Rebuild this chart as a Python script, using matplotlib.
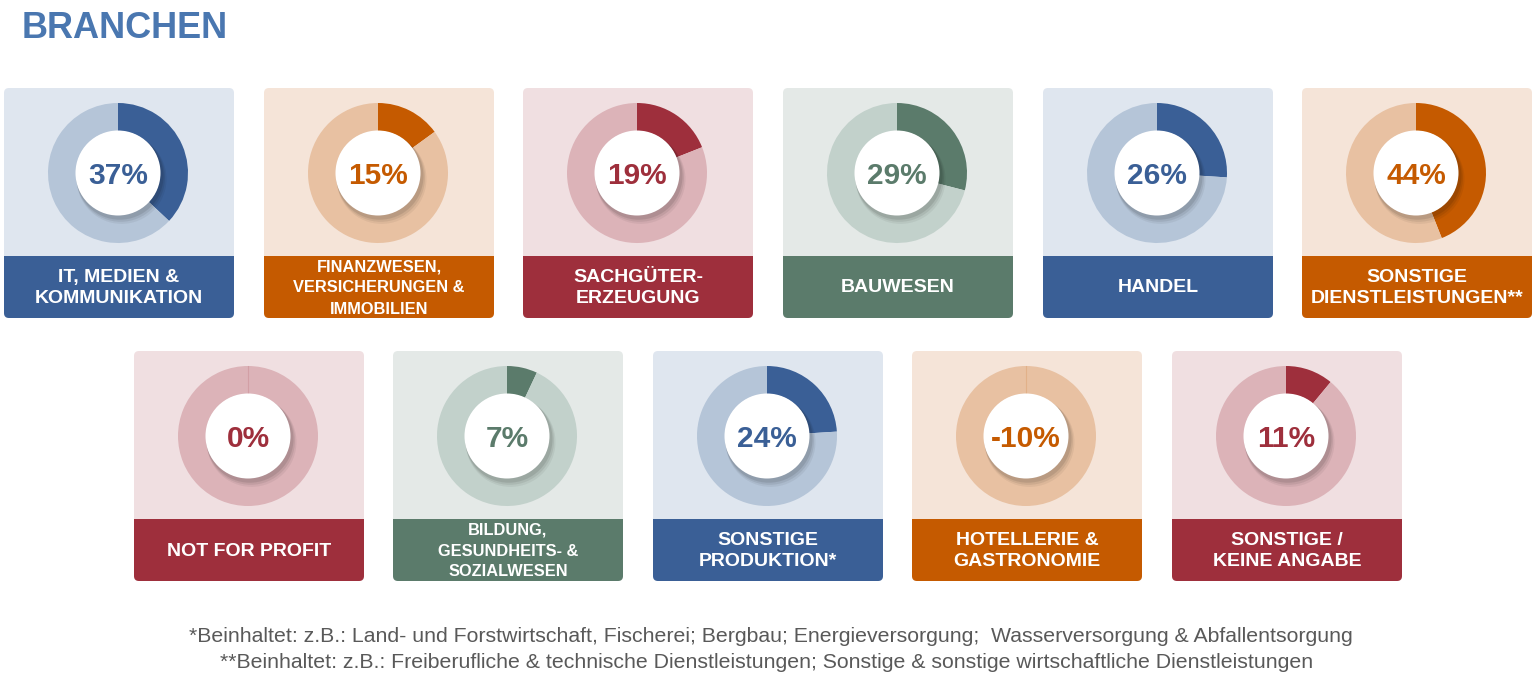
import matplotlib.pyplot as plt
from matplotlib.patches import FancyBboxPatch, Circle, Rectangle

plt.rcParams['font.family'] = ['Liberation Sans', 'DejaVu Sans']

# Daten
row1_labels = ['IT, MEDIEN &\nKOMMUNIKATION', 'FINANZWESEN,\nVERSICHERUNGEN &\nIMMOBILIEN',
               'SACHGÜTER-\nERZEUGUNG', 'BAUWESEN', 'HANDEL', 'SONSTIGE\nDIENSTLEISTUNGEN**']
row1_values = [37, 15, 19, 29, 26, 44]
row1_themes = ['blue', 'orange', 'red', 'green', 'blue', 'orange']

row2_labels = ['NOT FOR PROFIT', 'BILDUNG,\nGESUNDHEITS- &\nSOZIALWESEN', 'SONSTIGE\nPRODUKTION*',
               'HOTELLERIE &\nGASTRONOMIE', 'SONSTIGE /\nKEINE ANGABE']
row2_values = [0, 7, 24, -10, 11]
row2_themes = ['red', 'green', 'blue', 'orange', 'red']

footnotes = ['*Beinhaltet: z.B.: Land- und Forstwirtschaft, Fischerei; Bergbau; Energieversorgung;  Wasserversorgung & Abfallentsorgung',
             '**Beinhaltet: z.B.: Freiberufliche & technische Dienstleistungen; Sonstige & sonstige wirtschaftliche Dienstleistungen']

# Farben: (dunkel, Ring hell, Hintergrund)
themes = {
    'blue':   ('#3A5F96', '#B5C5D8', '#DFE6EF'),
    'orange': ('#C55A00', '#E8C1A2', '#F5E4D8'),
    'red':    ('#9E2F3C', '#DCB3B8', '#F0DFE1'),
    'green':  ('#5B7B6B', '#C2D1CB', '#E4E9E7'),
}

W, H = 1537, 692
fig = plt.figure(figsize=(W / 100, H / 100), dpi=100)
ax = fig.add_axes([0, 0, 1, 1])


def Y(py):
    return H - py


def card(x0, top, label, value, theme, small):
    dark, light, bg = themes[theme]
    w, h, band = 230, 230, 62
    cx, cy = x0 + w / 2 - 1, top + 85
    # Karte
    ax.add_patch(FancyBboxPatch((x0, Y(top + h)), w, h, boxstyle='round,pad=0,rounding_size=5',
                                fc=bg, ec='none', zorder=1))
    ax.add_patch(FancyBboxPatch((x0, Y(top + h)), w, band, boxstyle='round,pad=0,rounding_size=5',
                                fc=dark, ec='none', zorder=2))
    ax.add_patch(Rectangle((x0, Y(top + h) + band - 8), w, 8, fc=dark, ec='none', zorder=2))
    # Donut
    v = max(value, 0)
    ax.pie([v, 100 - v], colors=[dark, light], center=(cx, Y(cy)), radius=70,
           startangle=90, counterclock=False, wedgeprops=dict(width=28, linewidth=0), frame=True)
    if v == 0:
        ax.plot([cx, cx], [Y(cy) + 42, Y(cy) + 70], color=dark, alpha=0.15, lw=0.8, zorder=3)
    # Schatten + weisser Kreis
    for off, a in [(6, 0.05), (4.5, 0.07), (3, 0.09)]:
        ax.add_patch(Circle((cx + off * 0.6, Y(cy) - off), 42.5 + off * 0.4, fc='black',
                            alpha=a, ec='none', zorder=4))
    ax.add_patch(Circle((cx, Y(cy)), 42.5, fc='white', ec='none', zorder=5))
    ax.text(cx, Y(cy + 11), f'{value}%', ha='center', va='baseline', fontsize=21.5,
            fontweight='bold', color=dark, zorder=6)
    ax.text(x0 + w / 2, Y(top + h - band / 2 + 1), label, ha='center', va='center', ma='center',
            fontsize=11.8 if small else 14, fontweight='bold', color='white',
            linespacing=1.5 if small else 1.33, zorder=6)


row1_x = [4, 264, 523, 783, 1043, 1302]
row2_x = [134, 393, 653, 912, 1172]
for x0, lab, val, th in zip(row1_x, row1_labels, row1_values, row1_themes):
    card(x0, 88, lab, val, th, lab.count('\n') >= 2)
for x0, lab, val, th in zip(row2_x, row2_labels, row2_values, row2_themes):
    card(x0, 351, lab, val, th, lab.count('\n') >= 2)

ax.text(22, Y(29), 'BRANCHEN', ha='left', va='center', fontsize=26, fontweight='bold',
        color='#4A77B0')
ax.text(771, Y(637), footnotes[0], ha='center', va='center', fontsize=15.3, color='#595959')
ax.text(767, Y(663), footnotes[1], ha='center', va='center', fontsize=15.3, color='#595959')

ax.set_xlim(0, W)
ax.set_ylim(0, H)
ax.set_aspect('equal')
ax.axis('off')
fig.savefig('out.png', dpi=100)
